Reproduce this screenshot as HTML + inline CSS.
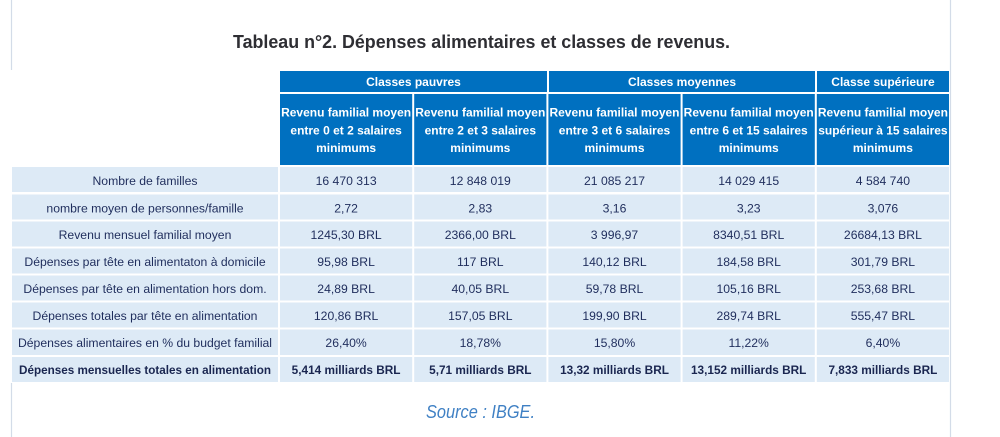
<!DOCTYPE html>
<html><head><meta charset="utf-8"><style>
html,body{margin:0;padding:0;background:#fff;width:1000px;height:437px;overflow:hidden}
svg{display:block}
.h{font-family:"Liberation Sans",Arial,sans-serif;font-size:12px;font-weight:bold;fill:#fff;text-anchor:middle}
.b{font-family:"Liberation Sans",Arial,sans-serif;font-size:12.2px;fill:#1f2d5c;text-anchor:middle}
.bb{font-family:"Liberation Sans",Arial,sans-serif;font-size:11.8px;font-weight:bold;fill:#1a2650;text-anchor:middle}
</style></head><body>
<svg width="1000" height="437" viewBox="0 0 1000 437" xmlns="http://www.w3.org/2000/svg">
<line x1="11.5" y1="0" x2="11.5" y2="70" stroke="#d3dce8" stroke-width="1.2"/>
<line x1="11.5" y1="383" x2="11.5" y2="437" stroke="#d3dce8" stroke-width="1.2"/>
<line x1="950.5" y1="0" x2="950.5" y2="437" stroke="#d3dce8" stroke-width="1.2"/>
<text x="233" y="48" textLength="497" lengthAdjust="spacingAndGlyphs" font-family="Liberation Sans, Arial, sans-serif" font-size="18" font-weight="bold" fill="#2e2e33">Tableau n°2. Dépenses alimentaires et classes de revenus.</text>

<!-- header row 1 -->
<rect x="280" y="71" width="267" height="21" fill="#0070c0"/>
<rect x="549" y="71" width="266" height="21" fill="#0070c0"/>
<rect x="817" y="71" width="132" height="21" fill="#0070c0"/>
<text class="h" x="413.5" y="86">Classes pauvres</text>
<text class="h" x="682" y="86">Classes moyennes</text>
<text class="h" x="883" y="86">Classe supérieure</text>

<!-- header row 2 -->
<rect x="280" y="94" width="132.2" height="71" fill="#0070c0"/>
<rect x="414.2" y="94" width="132.2" height="71" fill="#0070c0"/>
<rect x="548.4" y="94" width="132.2" height="71" fill="#0070c0"/>
<rect x="682.6" y="94" width="132.2" height="71" fill="#0070c0"/>
<rect x="816.8" y="94" width="132.2" height="71" fill="#0070c0"/>
<text class="h" x="346.1" y="116.7">Revenu familial moyen</text>
<text class="h" x="346.1" y="134.3">entre 0 et 2 salaires</text>
<text class="h" x="346.1" y="151.8">minimums</text>
<text class="h" x="480.3" y="116.7">Revenu familial moyen</text>
<text class="h" x="480.3" y="134.3">entre 2 et 3 salaires</text>
<text class="h" x="480.3" y="151.8">minimums</text>
<text class="h" x="614.5" y="116.7">Revenu familial moyen</text>
<text class="h" x="614.5" y="134.3">entre 3 et 6 salaires</text>
<text class="h" x="614.5" y="151.8">minimums</text>
<text class="h" x="748.7" y="116.7">Revenu familial moyen</text>
<text class="h" x="748.7" y="134.3">entre 6 et 15 salaires</text>
<text class="h" x="748.7" y="151.8">minimums</text>
<text class="h" x="882.9" y="116.7">Revenu familial moyen</text>
<text class="h" x="882.9" y="134.3">supérieur à 15 salaires</text>
<text class="h" x="882.9" y="151.8">minimums</text>

<!-- body rows backgrounds -->
<g fill="#ddeaf6">
<rect x="12" y="167" width="266" height="25" /><rect x="280" y="167" width="132.2" height="25"/><rect x="414.2" y="167" width="132.2" height="25"/><rect x="548.4" y="167" width="132.2" height="25"/><rect x="682.6" y="167" width="132.2" height="25"/><rect x="816.8" y="167" width="132.2" height="25"/>
<rect x="12" y="194.5" width="266" height="25" /><rect x="280" y="194.5" width="132.2" height="25"/><rect x="414.2" y="194.5" width="132.2" height="25"/><rect x="548.4" y="194.5" width="132.2" height="25"/><rect x="682.6" y="194.5" width="132.2" height="25"/><rect x="816.8" y="194.5" width="132.2" height="25"/>
<rect x="12" y="221.5" width="266" height="25" /><rect x="280" y="221.5" width="132.2" height="25"/><rect x="414.2" y="221.5" width="132.2" height="25"/><rect x="548.4" y="221.5" width="132.2" height="25"/><rect x="682.6" y="221.5" width="132.2" height="25"/><rect x="816.8" y="221.5" width="132.2" height="25"/>
<rect x="12" y="248.5" width="266" height="25" /><rect x="280" y="248.5" width="132.2" height="25"/><rect x="414.2" y="248.5" width="132.2" height="25"/><rect x="548.4" y="248.5" width="132.2" height="25"/><rect x="682.6" y="248.5" width="132.2" height="25"/><rect x="816.8" y="248.5" width="132.2" height="25"/>
<rect x="12" y="275.5" width="266" height="25" /><rect x="280" y="275.5" width="132.2" height="25"/><rect x="414.2" y="275.5" width="132.2" height="25"/><rect x="548.4" y="275.5" width="132.2" height="25"/><rect x="682.6" y="275.5" width="132.2" height="25"/><rect x="816.8" y="275.5" width="132.2" height="25"/>
<rect x="12" y="302.5" width="266" height="25" /><rect x="280" y="302.5" width="132.2" height="25"/><rect x="414.2" y="302.5" width="132.2" height="25"/><rect x="548.4" y="302.5" width="132.2" height="25"/><rect x="682.6" y="302.5" width="132.2" height="25"/><rect x="816.8" y="302.5" width="132.2" height="25"/>
<rect x="12" y="329.5" width="266" height="25.5" /><rect x="280" y="329.5" width="132.2" height="25.5"/><rect x="414.2" y="329.5" width="132.2" height="25.5"/><rect x="548.4" y="329.5" width="132.2" height="25.5"/><rect x="682.6" y="329.5" width="132.2" height="25.5"/><rect x="816.8" y="329.5" width="132.2" height="25.5"/>
<rect x="12" y="357" width="266" height="25" /><rect x="280" y="357" width="132.2" height="25"/><rect x="414.2" y="357" width="132.2" height="25"/><rect x="548.4" y="357" width="132.2" height="25"/><rect x="682.6" y="357" width="132.2" height="25"/><rect x="816.8" y="357" width="132.2" height="25"/>
</g>

<!-- row 1 -->
<text class="b" x="145" y="185">Nombre de familles</text>
<text class="b" x="346.1" y="185">16 470 313</text>
<text class="b" x="480.3" y="185">12 848 019</text>
<text class="b" x="614.5" y="185">21 085 217</text>
<text class="b" x="748.7" y="185">14 029 415</text>
<text class="b" x="882.9" y="185">4 584 740</text>
<!-- row 2 -->
<text class="b" x="145" y="212.3">nombre moyen de personnes/famille</text>
<text class="b" x="346.1" y="212.3">2,72</text>
<text class="b" x="480.3" y="212.3">2,83</text>
<text class="b" x="614.5" y="212.3">3,16</text>
<text class="b" x="748.7" y="212.3">3,23</text>
<text class="b" x="882.9" y="212.3">3,076</text>
<!-- row 3 -->
<text class="b" x="145" y="239">Revenu mensuel familial moyen</text>
<text class="b" x="346.1" y="239">1245,30 BRL</text>
<text class="b" x="480.3" y="239">2366,00 BRL</text>
<text class="b" x="614.5" y="239">3 996,97</text>
<text class="b" x="748.7" y="239">8340,51 BRL</text>
<text class="b" x="882.9" y="239">26684,13 BRL</text>
<!-- row 4 -->
<text class="b" x="145" y="266">Dépenses par tête en alimentaton à domicile</text>
<text class="b" x="346.1" y="266">95,98 BRL</text>
<text class="b" x="480.3" y="266">117 BRL</text>
<text class="b" x="614.5" y="266">140,12 BRL</text>
<text class="b" x="748.7" y="266">184,58 BRL</text>
<text class="b" x="882.9" y="266">301,79 BRL</text>
<!-- row 5 -->
<text class="b" x="145" y="293">Dépenses par tête en alimentation hors dom.</text>
<text class="b" x="346.1" y="293">24,89 BRL</text>
<text class="b" x="480.3" y="293">40,05 BRL</text>
<text class="b" x="614.5" y="293">59,78 BRL</text>
<text class="b" x="748.7" y="293">105,16 BRL</text>
<text class="b" x="882.9" y="293">253,68 BRL</text>
<!-- row 6 -->
<text class="b" x="145" y="320">Dépenses totales par tête en alimentation</text>
<text class="b" x="346.1" y="320">120,86 BRL</text>
<text class="b" x="480.3" y="320">157,05 BRL</text>
<text class="b" x="614.5" y="320">199,90 BRL</text>
<text class="b" x="748.7" y="320">289,74 BRL</text>
<text class="b" x="882.9" y="320">555,47 BRL</text>
<!-- row 7 -->
<text class="b" x="145" y="347">Dépenses alimentaires en % du budget familial</text>
<text class="b" x="346.1" y="347">26,40%</text>
<text class="b" x="480.3" y="347">18,78%</text>
<text class="b" x="614.5" y="347">15,80%</text>
<text class="b" x="748.7" y="347">11,22%</text>
<text class="b" x="882.9" y="347">6,40%</text>
<!-- row 8 -->
<text class="bb" x="145" y="374" textLength="252" lengthAdjust="spacingAndGlyphs">Dépenses mensuelles totales en alimentation</text>
<text class="bb" x="346.1" y="374">5,414 milliards BRL</text>
<text class="bb" x="480.3" y="374">5,71 milliards BRL</text>
<text class="bb" x="614.5" y="374">13,32 milliards BRL</text>
<text class="bb" x="748.7" y="374">13,152 milliards BRL</text>
<text class="bb" x="882.9" y="374">7,833 milliards BRL</text>

<text x="426" y="418" textLength="109" lengthAdjust="spacingAndGlyphs" font-family="Liberation Sans, Arial, sans-serif" font-size="18" font-style="italic" fill="#3f80c4">Source : IBGE.</text>
</svg>
</body></html>
